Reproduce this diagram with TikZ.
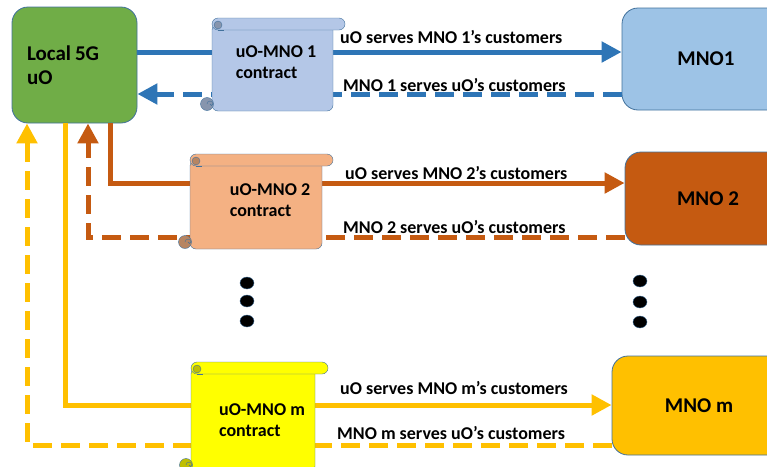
\documentclass[tikz,border=0pt]{standalone}
\usepackage{fontspec}
\setmainfont{Carlito}
\usetikzlibrary{arrows.meta,shapes.geometric}

\definecolor{uogreen}{HTML}{70AD47}
\definecolor{edgeblue}{HTML}{41719C}
\definecolor{mnoblue}{HTML}{2E75B6}
\definecolor{mnolight}{HTML}{9DC3E6}
\definecolor{paperblue}{HTML}{B4C7E7}
\definecolor{mnoorange}{HTML}{C55A11}
\definecolor{paperorange}{HTML}{F4B183}
\definecolor{mnoyellow}{HTML}{FFC000}
\definecolor{paperyellow}{HTML}{FFFF00}

% scroll: left, top, right, bottom, end of roll, fill
\newcommand{\contractscroll}[6]{%
  \filldraw[fill=#6,draw=edgeblue,rounded corners=6pt] (#1,#2+6) rectangle (#3,#4);
  \filldraw[fill=#6,draw=edgeblue,rounded corners=6pt] (#1,#2) rectangle (#5,#2+12);
  \filldraw[fill=#6!75!black,draw=edgeblue] (#1+6,#2+7) circle (4pt);
  \draw[edgeblue] (#1+6,#2+12) -- (#1+12,#2+12);
  \filldraw[fill=#6!75!black,draw=edgeblue] (#1-5,#4-7) circle (6.5pt);
  \draw[edgeblue] (#1-5,#4-7) arc (180:0:3pt) arc (0:-180:1.5pt);
}

\begin{document}
\begin{tikzpicture}
        [x=1pt,y=-1pt,
         box/.style={draw=edgeblue,line width=0.8pt,rounded corners=16pt,inner sep=0pt,
           font=\bfseries\fontsize{21}{24}\selectfont},
         paper/.style={align=left,inner sep=0pt,font=\bfseries\fontsize{18}{21}\selectfont},
         lbl/.style={anchor=west,inner sep=0pt,font=\bfseries\fontsize{18}{20}\selectfont},
         dot/.style={ellipse,fill=black,draw=edgeblue,inner sep=0pt,minimum width=14pt,minimum height=12pt},
         flow/.style={line width=5pt},
         back/.style={line width=5pt,dash pattern=on 19pt off 9pt},
         tip/.style={-{Triangle[length=20pt,width=20pt]}}]

        \clip (0,0) rectangle (767,466);

        \node[box,fill=uogreen,minimum width=125pt,minimum height=116pt,
              text width=95pt,align=left] (uo) at (74.5,65) {Local\hspace{4pt}5G\\uO};
        \node[box,fill=mnolight,minimum width=168pt,minimum height=102pt] (mno1) at (706,59) {MNO1};
        \node[box,fill=mnoorange,minimum width=166pt,minimum height=93pt] (mno2) at (708,198.5) {MNO 2};
        \node[box,fill=mnoyellow,minimum width=174pt,minimum height=99pt] (mnom) at (699,405.5) {MNO m};

        \coordinate (in1) at ([yshift=7pt]mno1.west);
        \coordinate (out1) at ([yshift=-35pt]mno1.west);
        \coordinate (in2) at ([yshift=15.5pt]mno2.west);
        \coordinate (out2) at ([yshift=-38.5pt]mno2.west);
        \coordinate (in3) at ([yshift=0.5pt]mnom.west);
        \coordinate (out3) at ([yshift=-39.5pt]mnom.west);

        \draw[flow,tip,mnoblue] (uo.east |- in1) -- (in1);
        \draw[back,tip,mnoblue] (out1) -- (uo.east |- out1);
        \draw[flow,tip,mnoorange] ([xshift=35.5pt]uo.south) |- (in2);
        \draw[back,tip,mnoorange] (out2) -| ([xshift=13.5pt]uo.south);
        \draw[flow,tip,mnoyellow] ([xshift=-9.5pt]uo.south) |- (in3);
        \draw[back,tip,mnoyellow] (out3) -| ([xshift=-47.5pt]uo.south);

        \contractscroll{212}{18}{333}{111}{345}{paperblue}
        \contractscroll{190}{154}{322}{249}{333}{paperorange}
        \contractscroll{191}{362}{315}{472}{328}{paperyellow}

        \node[paper] (c1) at (276,62) {uO-MNO 1\\contract};
        \node[paper] (c2) at (270,200) {uO-MNO 2\\contract};
        \node[paper] (cm) at (262,420) {uO-MNO m\\contract};

        \node[lbl] (s1) at (340,37) {uO serves MNO 1’s customers};
        \node[lbl] (r1) at (343,85) {MNO 1 serves uO’s customers};
        \node[lbl] (s2) at (345,173) {uO serves MNO 2’s customers};
        \node[lbl] (r2) at (343,227) {MNO 2 serves uO’s customers};
        \node[lbl] (sm) at (340,388) {uO serves MNO m’s customers};
        \node[lbl] (rm) at (337,433) {MNO m serves uO’s customers};

        \node[dot] (d1) at (247,283) {};
        \node[dot] (d2) at (247,301) {};
        \node[dot] (d3) at (247,321) {};
        \node[dot] (d4) at (640,281) {};
        \node[dot] (d5) at (640,302) {};
        \node[dot] (d6) at (640,322) {};
      \end{tikzpicture}
\end{document}
